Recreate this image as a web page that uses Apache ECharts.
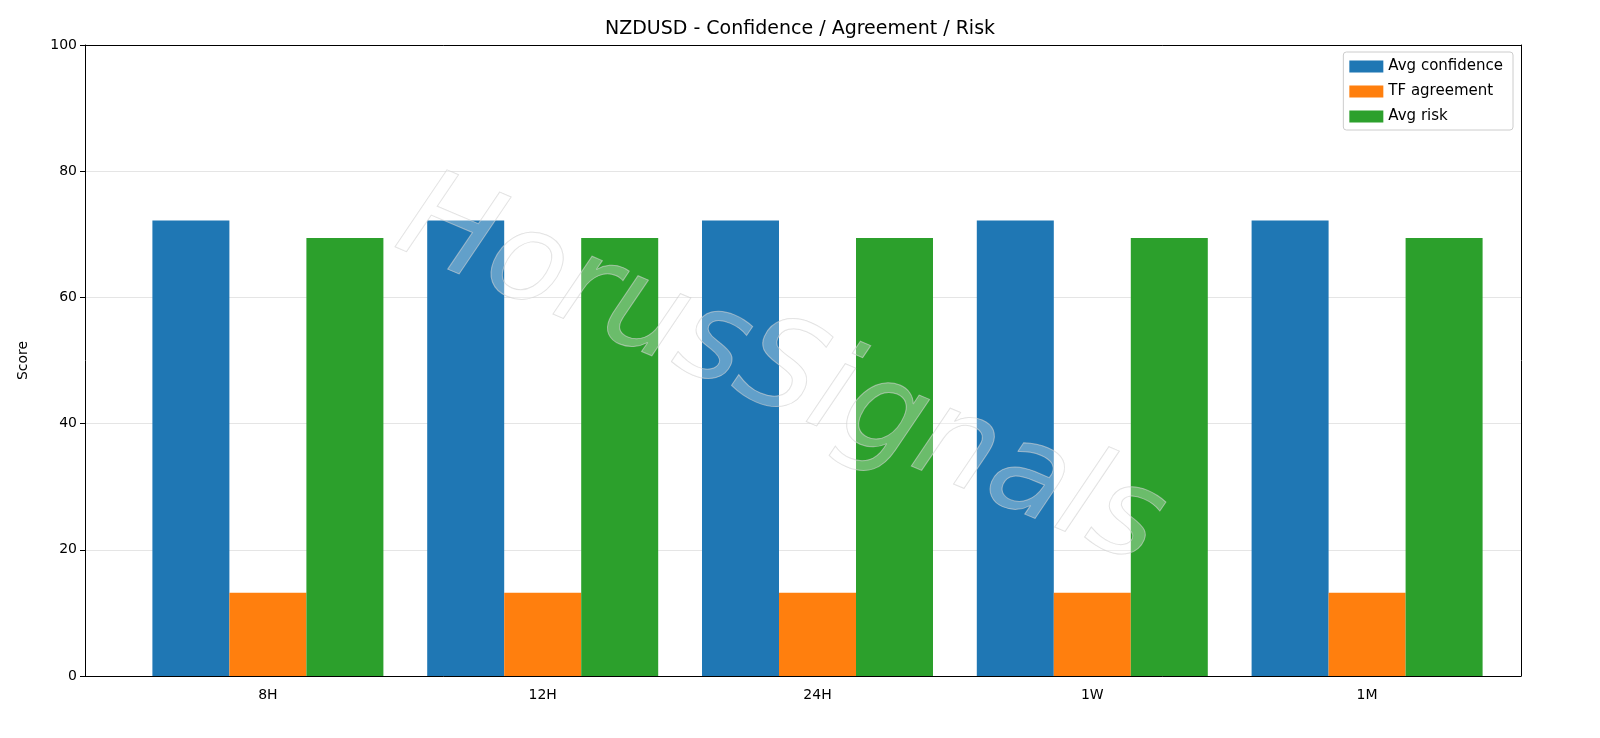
<!DOCTYPE html>
<html><head><meta charset="utf-8">
<script src="https://cdn.jsdelivr.net/npm/echarts@6/dist/echarts.min.js"></script>
<style>html,body{margin:0;padding:0;background:#fff}#c{width:1600px;height:738px}</style>
</head><body><div id="c"></div>
<script>
const categories = ['8H','12H','24H','1W','1M'];
const avgConfidence = [72.2,72.2,72.2,72.2,72.2];
const tfAgreement = [13.2,13.2,13.2,13.2,13.2];
const avgRisk = [69.4,69.4,69.4,69.4,69.4];
const yTicks = [0,20,40,60,80,100];

const chart = echarts.init(document.getElementById('c'));
const font = 'DejaVu Sans';
const blk = {show:true,onZero:false,lineStyle:{color:'#000',width:1}};
chart.setOption({
  animation:false,
  textStyle:{fontFamily:font},
  title:{text:'NZDUSD - Confidence / Agreement / Risk',left:'center',top:15,
    textStyle:{fontFamily:font,fontSize:19,fontWeight:'normal',color:'#000'}},
  grid:[{left:85,right:79,top:45,bottom:62},{left:130.5,right:95.5,top:45,bottom:62}],
  legend:{right:87,top:52,orient:'vertical',itemWidth:34,itemHeight:12,itemGap:10,
    icon:'rect',borderColor:'#ccc',borderWidth:1,borderRadius:3,padding:[7,10,6,6],
    textStyle:{fontFamily:font,fontSize:15,color:'#000'},
    data:['Avg confidence','TF agreement','Avg risk']},
  xAxis:[
    {gridIndex:0,type:'value',min:0,max:1,axisLine:blk,axisTick:{show:false},axisLabel:{show:false},splitLine:{show:false}},
    {gridIndex:0,type:'value',position:'top',min:0,max:1,axisLine:blk,axisTick:{show:false},axisLabel:{show:false},splitLine:{show:false}},
    {gridIndex:1,type:'category',data:categories,axisLine:{show:false},
      axisTick:{alignWithLabel:true,length:5,lineStyle:{color:'#000'}},
      axisLabel:{color:'#000',fontSize:14,margin:12}}
  ],
  yAxis:[
    {gridIndex:0,type:'value',min:0,max:100,interval:20,name:'Score',nameLocation:'middle',nameGap:55,
      nameTextStyle:{fontSize:14,color:'#000'},
      axisLine:blk,axisTick:{show:true,length:5,lineStyle:{color:'#000'}},
      axisLabel:{color:'#000',fontSize:14},
      splitLine:{lineStyle:{color:'#e5e5e5'}}},
    {gridIndex:0,type:'value',position:'right',min:0,max:100,axisLine:blk,
      axisTick:{show:false},axisLabel:{show:false},splitLine:{show:false}},
    {gridIndex:1,type:'value',min:0,max:100,show:false}
  ],
  series:[
    {name:'Avg confidence',type:'bar',xAxisIndex:2,yAxisIndex:2,data:avgConfidence,itemStyle:{color:'#1f77b4'},barWidth:77,barGap:'0%'},
    {name:'TF agreement',type:'bar',xAxisIndex:2,yAxisIndex:2,data:tfAgreement,itemStyle:{color:'#ff7f0e'},barWidth:77,barGap:'0%'},
    {name:'Avg risk',type:'bar',xAxisIndex:2,yAxisIndex:2,data:avgRisk,itemStyle:{color:'#2ca02c'},barWidth:77,barGap:'0%'}
  ],
  graphic:[
    {type:'text',x:780,y:375,rotation:-23*Math.PI/180,z:100,
      style:{text:'HorusSignals',font:'italic 125px "DejaVu Sans"',align:'center',verticalAlign:'middle',
        fill:'rgba(255,255,255,0.3)',stroke:'rgba(200,200,200,0.6)',lineWidth:1,
        shadowColor:'rgba(0,0,0,0.3)',shadowOffsetX:5,shadowOffsetY:6,shadowBlur:1}}
  ]
});
</script></body></html>
